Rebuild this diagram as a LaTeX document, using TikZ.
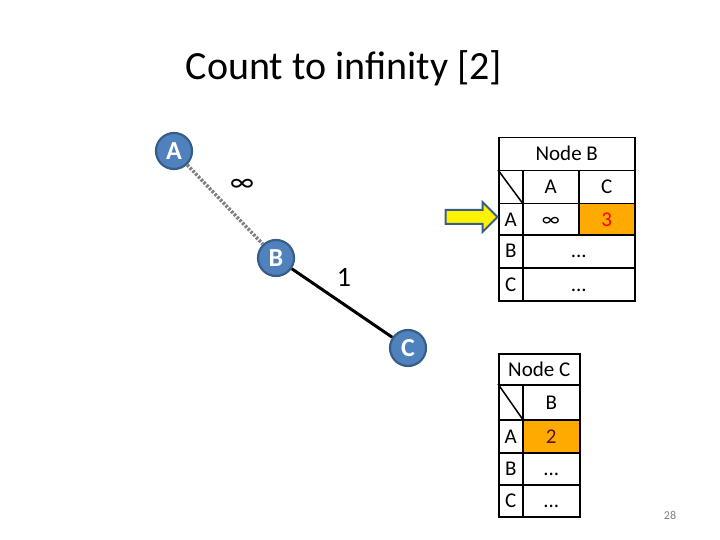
\documentclass[tikz,border=0pt]{standalone}
\usepackage{fontspec}
\setmainfont{Carlito}
\usetikzlibrary{positioning,shapes.arrows}

\definecolor{nodeblue}{RGB}{79,129,189}
\definecolor{nodeedge}{RGB}{56,93,138}
\definecolor{cellorange}{RGB}{255,170,0}
\definecolor{darkred}{RGB}{90,20,20}

\begin{document}
\begin{tikzpicture}[
    x=1pt, y=-1pt,
    router/.style={circle, draw=nodeedge, fill=nodeblue, line width=2.2pt,
                   minimum size=36pt, inner sep=0pt, text=white,
                   font=\fontsize{26}{26}\selectfont\bfseries},
    goodlink/.style={line width=3pt, black},
    badlink/.style={line width=3.5pt, gray, dash pattern=on 2.5pt off 1.5pt},
    cost/.style={font=\fontsize{28}{28}\selectfont},
    cell/.style={draw, line width=1.5pt, inner sep=0pt, anchor=north west,
                 text height=13.5pt, text depth=0pt,
                 font=\fontsize{21}{21}\selectfont},
    hot/.style={cell, fill=cellorange},
    pointer/.style={single arrow, draw=nodeedge, fill=yellow, line width=2pt,
                    minimum height=52pt, inner xsep=0pt, inner ysep=6pt,
                    single arrow head extend=8pt,
                    single arrow tip angle=90}
]
\useasboundingbox (0,0) rectangle (720,540);

% Title
\node (title) at (344,68) {\fontsize{40}{40}\selectfont Count to infinity [2]};

% Routers
\node[router] (a) at (174,151) {A};
\node[router] (b) at (276,258) {B};
\node[router] (c) at (408,348) {C};

% Links
\draw[badlink] (a) -- (b);
\draw[goodlink] (b) -- (c);
\node[cost] (costab) at (242,185) {∞};
\node[cost] (costbc) at (344,277) {1};

% Table of node B
\node[cell, minimum width=136pt, minimum height=33pt] (bhead) at (498,137) {Node B};
\node[cell, minimum width=24pt, minimum height=33pt] (bcorner) at (498,170) {};
\draw[line width=1.5pt] (bcorner.north west) -- (bcorner.south east);
\node[cell, minimum width=56pt, minimum height=33pt] (bcola) at (522,170) {A};
\node[cell, minimum width=56pt, minimum height=33pt] (bcolc) at (578,170) {C};
\node[cell, minimum width=24pt, minimum height=31pt] (browa) at (498,203) {A};
\node[cell, minimum width=56pt, minimum height=31pt] (baa) at (522,203) {∞};
\node[hot, minimum width=56pt, minimum height=31pt, text=red] (bac) at (578,203) {3};
\node[cell, minimum width=24pt, minimum height=33pt] (browb) at (498,234) {B};
\node[cell, minimum width=112pt, minimum height=33pt] (bb) at (522,234) {...};
\node[cell, minimum width=24pt, minimum height=33pt] (browc) at (498,267) {C};
\node[cell, minimum width=112pt, minimum height=33pt] (bc) at (522,267) {...};

% Pointer to the changed row
\node[pointer] (mark) at (468,217) {};

% Table of node C
\node[cell, minimum width=81pt, minimum height=31pt] (chead) at (498,353) {Node C};
\node[cell, minimum width=24pt, minimum height=35pt] (ccorner) at (498,384) {};
\draw[line width=1.5pt] (ccorner.north west) -- (ccorner.south east);
\node[cell, minimum width=57pt, minimum height=35pt] (ccolb) at (522,384) {B};
\node[cell, minimum width=24pt, minimum height=33pt] (crowa) at (498,419) {A};
\node[hot, minimum width=57pt, minimum height=33pt, text=darkred] (cab) at (522,419) {2};
\node[cell, minimum width=24pt, minimum height=32pt] (crowb) at (498,452) {B};
\node[cell, minimum width=57pt, minimum height=32pt] (cbb) at (522,452) {...};
\node[cell, minimum width=24pt, minimum height=32pt] (crowc) at (498,484) {C};
\node[cell, minimum width=57pt, minimum height=32pt] (ccb) at (522,484) {...};

% Slide number
\node[text=gray, font=\fontsize{12}{12}\selectfont] (page) at (670,515) {28};
\end{tikzpicture}
\end{document}
